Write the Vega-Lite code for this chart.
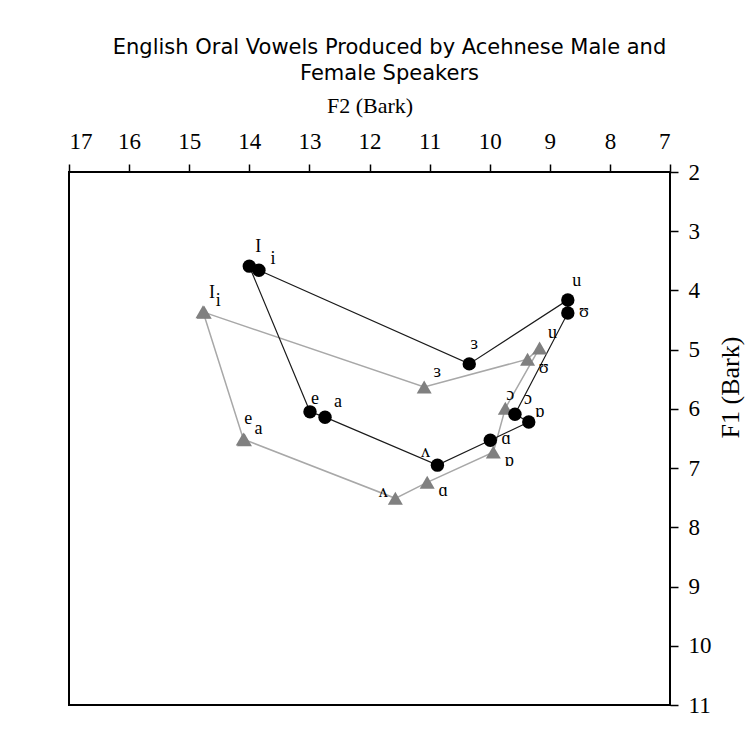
{
  "$schema": "https://vega.github.io/schema/vega-lite/v6.json",
  "width": 601,
  "height": 533,
  "autosize": {"type": "none"},
  "padding": {"left": 69, "top": 172, "right": 81, "bottom": 43},
  "background": "white",
  "title": {
    "text": ["English Oral Vowels Produced by Acehnese Male and", "Female Speakers"],
    "font": "DejaVu Sans",
    "fontSize": 21,
    "fontWeight": "normal",
    "color": "black",
    "lineHeight": 26,
    "dx": 20,
    "offset": 10
  },
  "config": {
    "view": {"stroke": "black", "strokeWidth": 2},
    "axis": {
      "grid": false,
      "domain": false,
      "tickSize": 8,
      "tickColor": "black",
      "tickWidth": 1.5,
      "labelFont": "Liberation Serif",
      "labelFontSize": 23,
      "labelColor": "black",
      "titleFont": "Liberation Serif",
      "titleFontSize": 22,
      "titleFontWeight": "normal",
      "titleColor": "black"
    }
  },
  "data": {
    "values": [
      {"speaker": "Male", "vowel": "I", "F2": 14.00, "F1": 3.59, "order": 1},
      {"speaker": "Male", "vowel": "e", "F2": 12.99, "F1": 6.05, "order": 2},
      {"speaker": "Male", "vowel": "a", "F2": 12.74, "F1": 6.14, "order": 3},
      {"speaker": "Male", "vowel": "ʌ", "F2": 10.87, "F1": 6.95, "order": 4},
      {"speaker": "Male", "vowel": "ɑ", "F2": 9.99, "F1": 6.53, "order": 5},
      {"speaker": "Male", "vowel": "ɒ", "F2": 9.35, "F1": 6.22, "order": 6},
      {"speaker": "Male", "vowel": "ɔ", "F2": 9.58, "F1": 6.09, "order": 7},
      {"speaker": "Male", "vowel": "ʊ", "F2": 8.70, "F1": 4.38, "order": 8},
      {"speaker": "Male", "vowel": "u", "F2": 8.70, "F1": 4.16, "order": 9},
      {"speaker": "Male", "vowel": "ɜ", "F2": 10.34, "F1": 5.24, "order": 10},
      {"speaker": "Male", "vowel": "i", "F2": 13.84, "F1": 3.66, "order": 11},
      {"speaker": "Female", "vowel": "I", "F2": 14.77, "F1": 4.36, "order": 1},
      {"speaker": "Female", "vowel": "e", "F2": 14.10, "F1": 6.51, "order": 2},
      {"speaker": "Female", "vowel": "a", "F2": 14.08, "F1": 6.52, "order": 3},
      {"speaker": "Female", "vowel": "ʌ", "F2": 11.57, "F1": 7.51, "order": 4},
      {"speaker": "Female", "vowel": "ɑ", "F2": 11.04, "F1": 7.24, "order": 5},
      {"speaker": "Female", "vowel": "ɒ", "F2": 9.94, "F1": 6.73, "order": 6},
      {"speaker": "Female", "vowel": "ɔ", "F2": 9.74, "F1": 5.99, "order": 7},
      {"speaker": "Female", "vowel": "u", "F2": 9.17, "F1": 4.97, "order": 8},
      {"speaker": "Female", "vowel": "ʊ", "F2": 9.37, "F1": 5.16, "order": 9},
      {"speaker": "Female", "vowel": "ɜ", "F2": 11.09, "F1": 5.63, "order": 10},
      {"speaker": "Female", "vowel": "i", "F2": 14.75, "F1": 4.37, "order": 11}
    ]
  },
  "encoding": {
    "x": {
      "field": "F2",
      "type": "quantitative",
      "scale": {"domain": [7, 17], "reverse": true, "nice": false, "zero": false},
      "axis": {"orient": "top", "title": "F2 (Bark)", "values": [7, 8, 9, 10, 11, 12, 13, 14, 15, 16, 17], "format": "d", "labelPadding": 11, "titlePadding": 13}
    },
    "y": {
      "field": "F1",
      "type": "quantitative",
      "scale": {"domain": [2, 11], "reverse": true, "nice": false, "zero": false},
      "axis": {"orient": "right", "title": "F1 (Bark)", "values": [2, 3, 4, 5, 6, 7, 8, 9, 10, 11], "format": "d", "labelPadding": 10, "titlePadding": 32, "titleAngle": 270, "titleY": 215, "titleFontSize": 26}
    }
  },
  "layer": [
    {
      "transform": [{"filter": "datum.speaker == 'Female'"}],
      "mark": {"type": "line", "color": "#a8a8a8", "strokeWidth": 1.5},
      "encoding": {"order": {"field": "order", "type": "quantitative"}}
    },
    {
      "transform": [{"filter": "datum.speaker == 'Male'"}],
      "mark": {"type": "line", "color": "#1a1a1a", "strokeWidth": 1.2},
      "encoding": {"order": {"field": "order", "type": "quantitative"}}
    },
    {
      "transform": [{"filter": "datum.speaker == 'Female'"}],
      "mark": {"type": "point", "shape": "triangle-up", "filled": true, "color": "#808080", "opacity": 1, "size": 225}
    },
    {
      "transform": [{"filter": "datum.speaker == 'Male'"}],
      "mark": {"type": "point", "shape": "circle", "filled": true, "color": "black", "opacity": 1, "size": 180}
    },
    {
      "transform": [{"filter": "(datum.speaker == 'Male' && indexof(['I','u'], datum.vowel) >= 0) || (datum.speaker == 'Female' && datum.vowel == 'I')"}],
      "mark": {"type": "text", "font": "Liberation Serif", "fontSize": 18, "color": "black", "align": "center", "baseline": "middle", "dx": 9, "dy": -19},
      "encoding": {"text": {"field": "vowel"}}
    },
    {
      "transform": [{"filter": "(datum.speaker == 'Male' && datum.vowel == 'ɜ') || (datum.speaker == 'Female' && datum.vowel == 'e')"}],
      "mark": {"type": "text", "font": "Liberation Serif", "fontSize": 18, "color": "black", "align": "center", "baseline": "middle", "dx": 5, "dy": -20},
      "encoding": {"text": {"field": "vowel"}}
    },
    {
      "transform": [{"filter": "(datum.speaker == 'Male' && indexof(['a','ɔ'], datum.vowel) >= 0) || (datum.speaker == 'Female' && indexof(['u','ɜ'], datum.vowel) >= 0)"}],
      "mark": {"type": "text", "font": "Liberation Serif", "fontSize": 18, "color": "black", "align": "center", "baseline": "middle", "dx": 13, "dy": -15},
      "encoding": {"text": {"field": "vowel"}}
    },
    {
      "transform": [{"filter": "(datum.speaker == 'Male' && datum.vowel == 'i') || (datum.speaker == 'Female' && indexof(['a','i'], datum.vowel) >= 0)"}],
      "mark": {"type": "text", "font": "Liberation Serif", "fontSize": 18, "color": "black", "align": "center", "baseline": "middle", "dx": 14, "dy": -11},
      "encoding": {"text": {"field": "vowel"}}
    },
    {
      "transform": [{"filter": "(datum.speaker == 'Male' && datum.vowel == 'e') || (datum.speaker == 'Female' && datum.vowel == 'ɔ')"}],
      "mark": {"type": "text", "font": "Liberation Serif", "fontSize": 18, "color": "black", "align": "center", "baseline": "middle", "dx": 5, "dy": -13},
      "encoding": {"text": {"field": "vowel"}}
    },
    {
      "transform": [{"filter": "datum.speaker == 'Male' && datum.vowel == 'ʌ'"}],
      "mark": {"type": "text", "font": "Liberation Serif", "fontSize": 18, "color": "black", "align": "center", "baseline": "middle", "dx": -12, "dy": -13},
      "encoding": {"text": {"field": "vowel"}}
    },
    {
      "transform": [{"filter": "datum.speaker == 'Female' && datum.vowel == 'ʌ'"}],
      "mark": {"type": "text", "font": "Liberation Serif", "fontSize": 18, "color": "black", "align": "center", "baseline": "middle", "dx": -12, "dy": -6},
      "encoding": {"text": {"field": "vowel"}}
    },
    {
      "transform": [{"filter": "datum.speaker == 'Female' && indexof(['ɑ','ɒ','ʊ'], datum.vowel) >= 0"}],
      "mark": {"type": "text", "font": "Liberation Serif", "fontSize": 18, "color": "black", "align": "center", "baseline": "middle", "dx": 16, "dy": 9},
      "encoding": {"text": {"field": "vowel"}}
    },
    {
      "transform": [{"filter": "datum.speaker == 'Male' && indexof(['ɑ','ʊ'], datum.vowel) >= 0"}],
      "mark": {"type": "text", "font": "Liberation Serif", "fontSize": 18, "color": "black", "align": "center", "baseline": "middle", "dx": 16, "dy": -1},
      "encoding": {"text": {"field": "vowel"}}
    },
    {
      "transform": [{"filter": "datum.speaker == 'Male' && datum.vowel == 'ɒ'"}],
      "mark": {"type": "text", "font": "Liberation Serif", "fontSize": 18, "color": "black", "align": "center", "baseline": "middle", "dx": 11, "dy": -10},
      "encoding": {"text": {"field": "vowel"}}
    }
  ]
}
